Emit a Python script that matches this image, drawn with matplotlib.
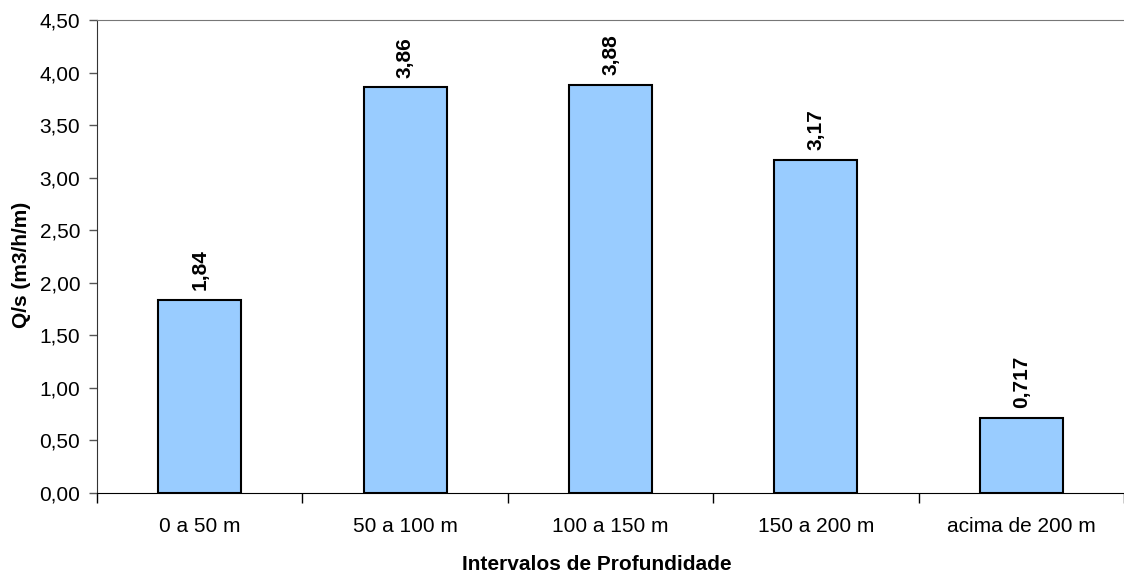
import numpy as np
import matplotlib.pyplot as plt

plt.rcParams['font.family'] = ['Liberation Sans', 'DejaVu Sans']

categorias = ["0 a 50 m", "50 a 100 m", "100 a 150 m", "150 a 200 m", "acima de 200 m"]
valores = [1.84, 3.86, 3.88, 3.17, 0.717]
rotulos = ["1,84", "3,86", "3,88", "3,17", "0,717"]


def main():
    fig = plt.figure(figsize=(11.24, 5.79), dpi=100)
    ax = fig.add_axes([97/1124, 1-493/579, 1-97/1124, (493-20)/579])

    x = np.arange(len(categorias))
    barras = ax.bar(x, valores, width=0.405, color="#99CCFF", edgecolor="black", linewidth=1.5)

    for b, r in zip(barras, rotulos):
        ax.annotate(r, (b.get_x() + b.get_width()/2, b.get_height()),
                    xytext=(0, 7), textcoords="offset points",
                    rotation=90, ha="center", va="bottom",
                    fontsize=15, fontweight="bold")

    ax.set_xlim(-0.5, len(categorias) - 0.5)
    ax.set_ylim(0, 4.5)
    yt = np.arange(0, 4.51, 0.5)
    ax.set_yticks(yt)
    ax.set_yticklabels([("%.2f" % v).replace(".", ",") for v in yt], fontsize=15)

    # categorias no centro, ticks nos limites
    ax.set_xticks(x)
    ax.set_xticklabels(categorias, fontsize=15)
    ax.tick_params(axis="x", length=0, pad=17)
    ax.set_xticks(np.arange(-0.5, len(categorias)), minor=True)
    ax.tick_params(axis="x", which="minor", length=7, width=1, color="black", direction="out")
    ax.tick_params(axis="y", length=6, width=1, color="#555555", direction="out", pad=6)

    ax.spines["right"].set_visible(False)
    ax.spines["top"].set_color("#777777")
    ax.spines["left"].set_color("#333333")
    ax.spines["bottom"].set_color("black")

    ax.set_ylabel("Q/s (m3/h/m)", fontsize=15, fontweight="bold", va="center")
    ax.yaxis.set_label_coords(-0.074, 0.482)
    ax.set_xlabel("Intervalos de Profundidade", fontsize=15, fontweight="bold", va="center")
    ax.xaxis.set_label_coords(0.487, -0.152)

    fig.savefig("out.png", dpi=100)


if __name__ == '__main__':
    main()
